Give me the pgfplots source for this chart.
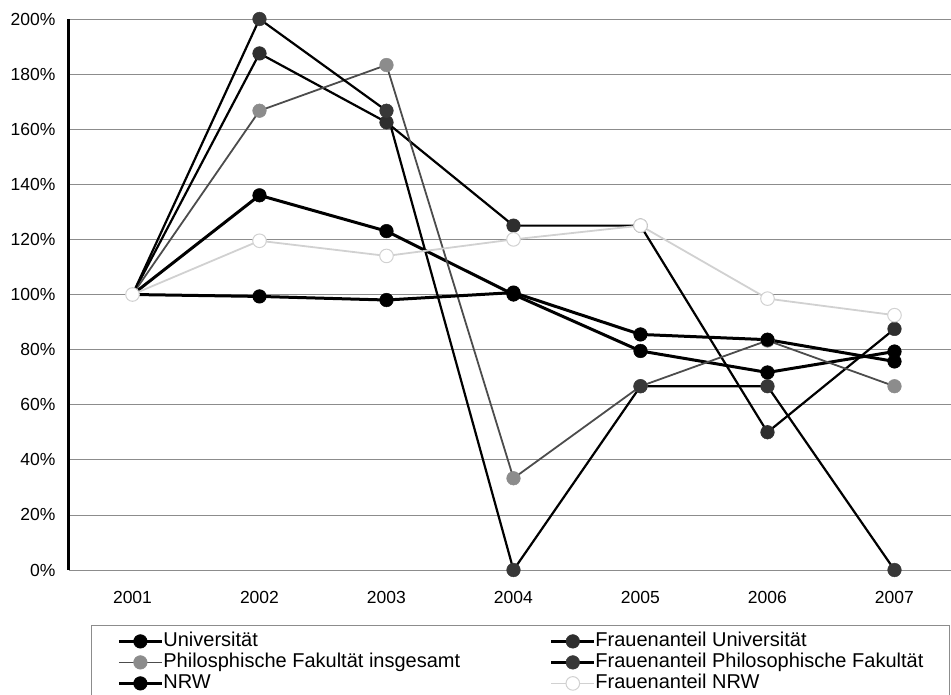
\documentclass[border=0pt]{standalone}
\usepackage{fontspec}
\setmainfont{Liberation Sans}
\usepackage{pgfplots}
\pgfplotsset{compat=1.18}
\definecolor{gridc}{gray}{0.55}
\definecolor{dkA}{gray}{0.22}
\definecolor{dkB}{gray}{0.18}
\definecolor{lnC}{gray}{0.30}
\definecolor{mkC}{gray}{0.55}
\definecolor{ltF}{gray}{0.82}
\begin{document}
\begin{tikzpicture}
\begin{axis}[
  scale only axis,
  width=889pt, height=551pt,
  xmin=2000.5, xmax=2007.5,
  ymin=0, ymax=200,
  xtick={2001,...,2007},
  xticklabels={2001,2002,2003,2004,2005,2006,2007},
  ytick={0,20,...,200},
  yticklabel={\pgfmathprintnumber{\tick}\%},
  /pgf/number format/assume math mode=true,
  tick label style={font=\fontsize{17.5}{20}\selectfont},
  xticklabel style={yshift=-18pt},
  yticklabel style={xshift=-10pt},
  major tick length=0pt,
  axis lines=left,
  axis line style={-},
  y axis line style={line width=3pt, black},
  x axis line style={gridc, line width=0.8pt},
  ymajorgrids,
  grid style={gridc, line width=0.8pt},
  clip=false,
  legend columns=2,
  legend cell align=left,
  legend image code/.code={\draw[mark indices={2}] plot coordinates {(0pt,0pt)(21.5pt,0pt)(43pt,0pt)};},
  legend style={at={(0,0)}, anchor=north west, xshift=22pt, yshift=-55pt,
    draw=gridc, line width=0.8pt,
    font=\fontsize{20}{22}\selectfont,
    inner xsep=26pt, inner ysep=7pt, row sep=3pt,
    nodes={inner sep=0pt, text height=14pt, text depth=4pt, anchor=west},
    /tikz/every odd column/.append style={column sep=0pt},
    /tikz/every even column/.append style={column sep=90pt}},
]
% Universitaet
\addplot[black, line width=3pt, mark=*, mark size=6.8pt, mark indices={2,3,4,5,6,7}, mark options={fill=black, line width=0.5pt}]
 coordinates {(2001,100)(2002,136)(2003,123)(2004,100)(2005,79.5)(2006,71.7)(2007,79.3)};
\addlegendentry{Universität}
% Frauenanteil Universitaet
\addplot[black, line width=2.2pt, mark=*, mark size=6.8pt, mark indices={2,3,4,5,6,7}, mark options={fill=dkB, draw=dkB, line width=0.5pt}]
 coordinates {(2001,100)(2002,187.5)(2003,162.5)(2004,125)(2005,125)(2006,50)(2007,87.5)};
\addlegendentry{Frauenanteil Universität}
% Phil. Fakultaet insgesamt
\addplot[lnC, line width=1.8pt, mark=*, mark size=6.8pt, mark indices={2,3,4,5,6,7}, mark options={fill=mkC, draw=mkC, line width=0.5pt}]
 coordinates {(2001,100)(2002,166.7)(2003,183.3)(2004,33.3)(2005,66.7)(2006,83.3)(2007,66.7)};
\addlegendentry{Philosphische Fakultät insgesamt}
% Frauenanteil Phil. Fakultaet
\addplot[black, line width=2.2pt, mark=*, mark size=6.8pt, mark indices={2,3,4,5,6,7}, mark options={fill=dkA, draw=dkA, line width=0.5pt}]
 coordinates {(2001,100)(2002,200)(2003,166.7)(2004,0)(2005,66.7)(2006,66.7)(2007,0)};
\addlegendentry{Frauenanteil Philosophische Fakultät\hspace{-10pt}}
% NRW
\addplot[black, line width=3pt, mark=*, mark size=6.8pt, mark indices={2,3,4,5,6,7}, mark options={fill=black, line width=0.5pt}]
 coordinates {(2001,100)(2002,99.3)(2003,98)(2004,100.7)(2005,85.5)(2006,83.6)(2007,75.7)};
\addlegendentry{NRW}
% Frauenanteil NRW
\addplot[ltF, line width=1.8pt, mark=*, mark size=6.8pt, mark options={fill=white, draw=ltF, line width=1pt}]
 coordinates {(2001,100)(2002,119.5)(2003,114)(2004,120)(2005,125)(2006,98.5)(2007,92.5)};
\addlegendentry{Frauenanteil NRW}
\end{axis}
\pgfresetboundingbox
\useasboundingbox (-69pt,-124pt) rectangle (882pt,570pt);
\end{tikzpicture}
\end{document}
